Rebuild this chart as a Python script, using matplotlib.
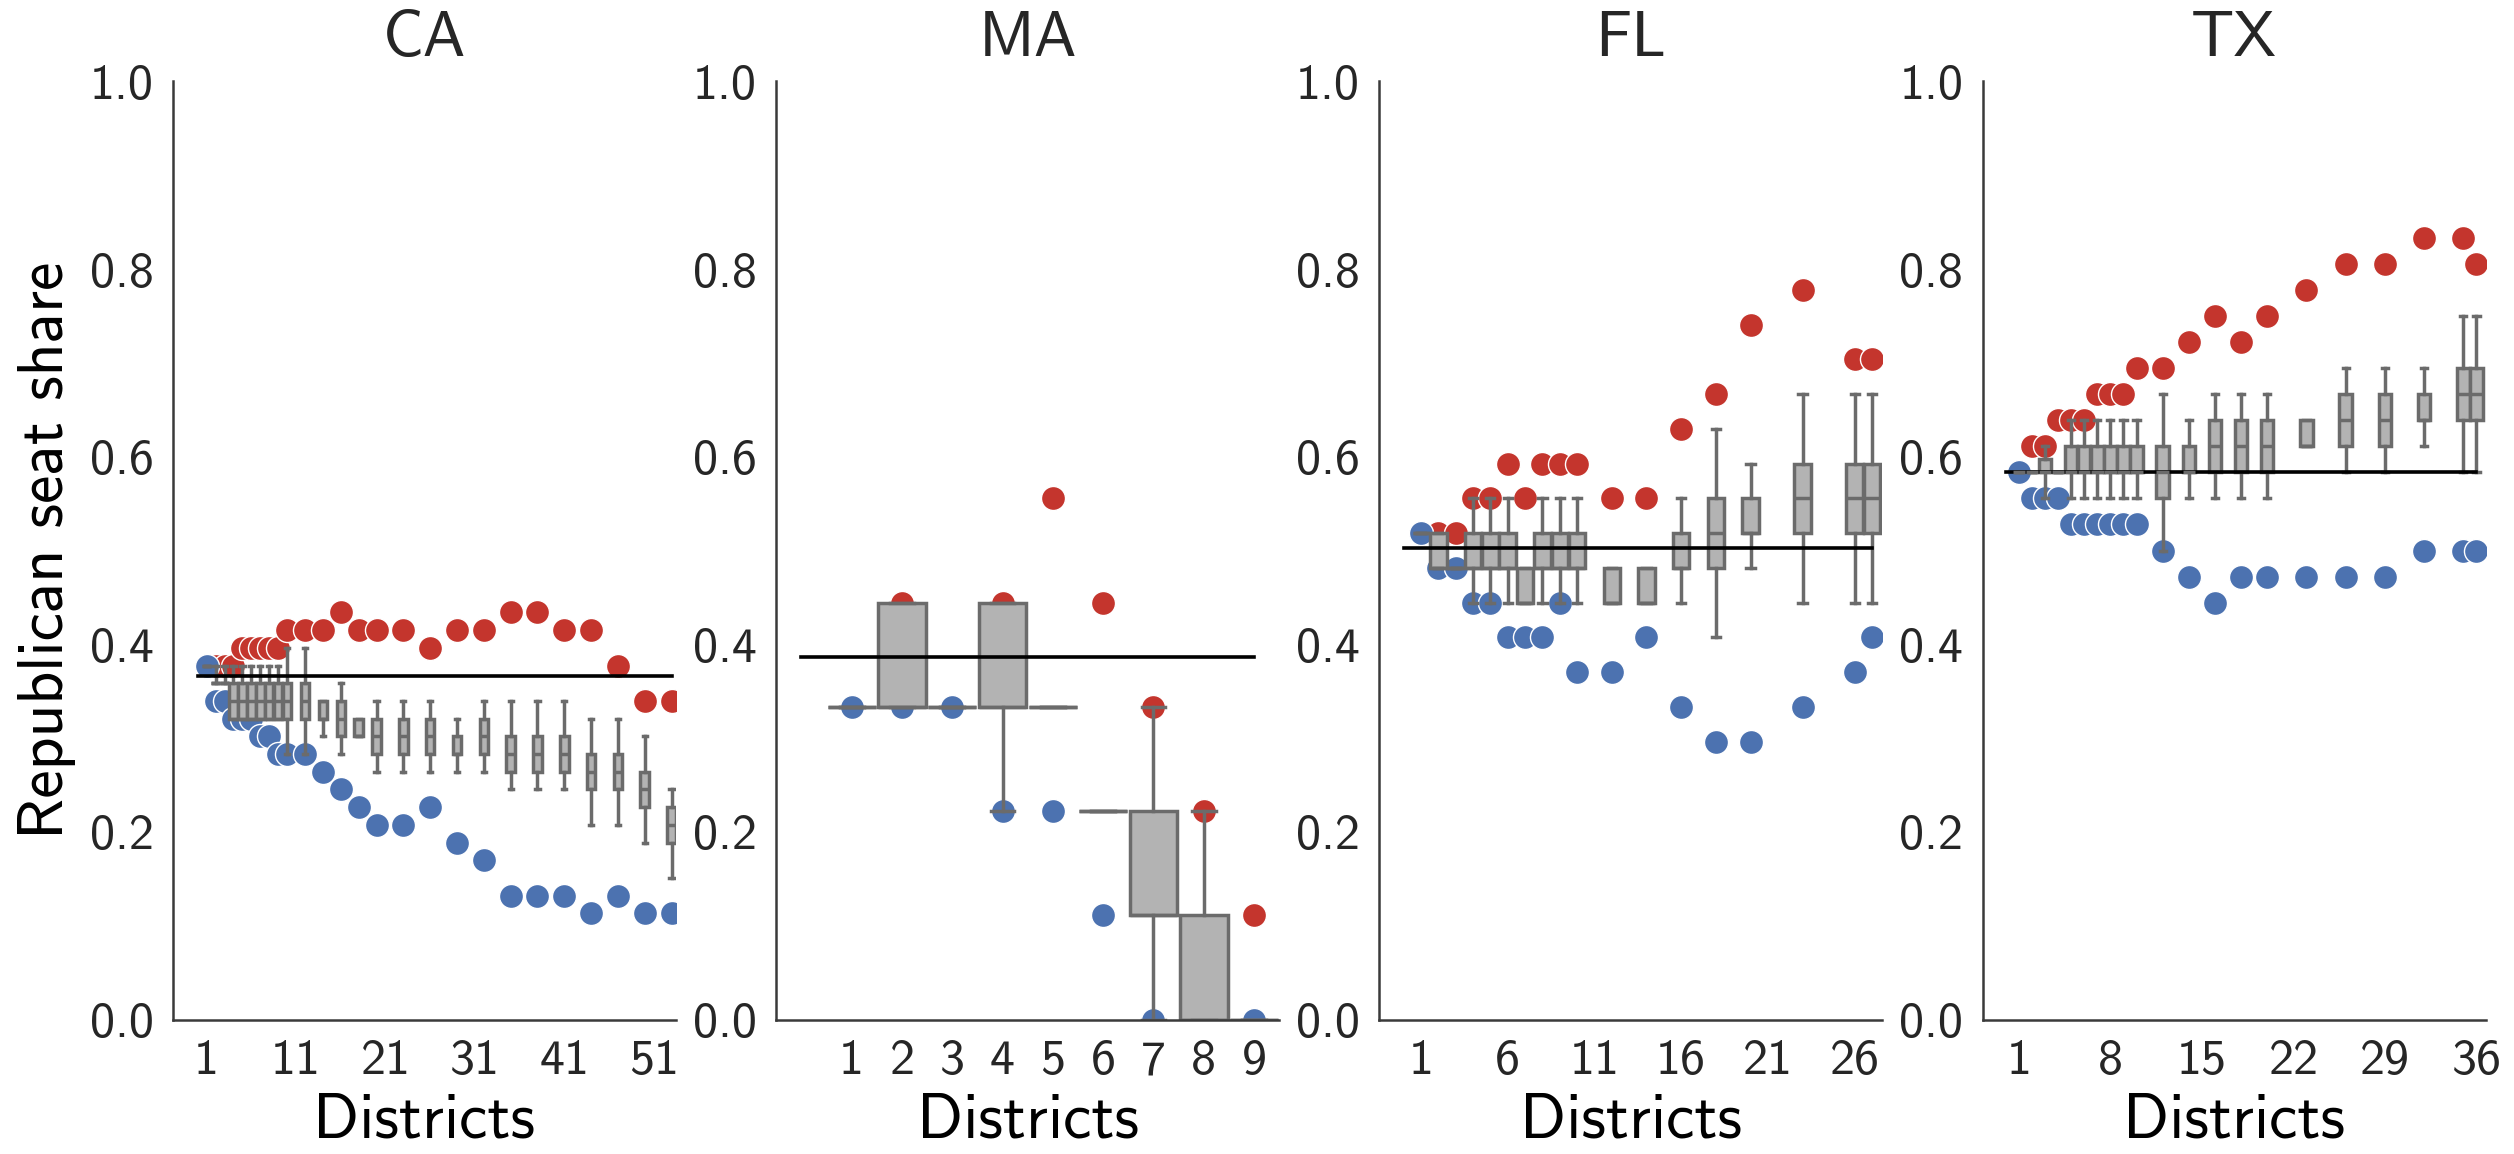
import matplotlib
matplotlib.use("Agg")
import matplotlib.pyplot as plt

plt.rcParams["font.family"] = ["cmss10", "DejaVu Sans"]
plt.rcParams["axes.unicode_minus"] = False
plt.rcParams["text.color"] = "#262626"
plt.rcParams["xtick.color"] = "#262626"
plt.rcParams["ytick.color"] = "#262626"

RED = "#c4352d"
BLUE = "#4c72b0"
BOX_FACE = "#b3b3b3"
BOX_EDGE = "#6b6b6b"

states = ["CA", "MA", "FL", "TX"]

# seats in each state's delegation
ca_seats = 53
ma_seats = 9
fl_seats = 27
tx_seats = 36

# statewide republican share (black line)
ca_line = 0.366
ma_line = 0.386
fl_line = 0.503
tx_line = 0.584

# ---- CA (values in seats out of 53)
ca_x = [1, 2, 3, 4, 5, 6, 7, 8, 9, 10, 12, 14, 16, 18, 20, 23, 26, 29, 32, 35, 38, 41, 44, 47, 50, 53]
ca_max = [20, 20, 20, 20, 21, 21, 21, 21, 21, 22, 22, 22, 23, 22, 22, 22, 21, 22, 22, 23, 23, 22, 22, 20, 18, 18]
ca_min = [20, 18, 18, 17, 17, 17, 16, 16, 15, 15, 15, 14, 13, 12, 11, 11, 12, 10, 9, 7, 7, 7, 6, 7, 6, 6]
ca_lo = [20, 19, 19, 17, 17, 17, 17, 17, 17, 15, 15, 16, 15, 16, 14, 14, 14, 14, 14, 13, 13, 13, 11, 11, 10, 8]
ca_q1 = [20, 19, 19, 17, 17, 17, 17, 17, 17, 17, 17, 17, 16, 16, 15, 15, 15, 15, 15, 14, 14, 14, 13, 13, 12, 10]
ca_med = [20, 19, 19, 18, 18, 18, 18, 18, 18, 18, 18, 17, 17, 16, 16, 16, 16, 15, 16, 15, 15, 15, 14, 14, 13, 11]
ca_q3 = [20, 19, 19, 19, 19, 19, 19, 19, 19, 19, 19, 18, 18, 17, 17, 17, 17, 16, 17, 16, 16, 16, 15, 15, 14, 12]
ca_hi = [20, 20, 20, 20, 20, 20, 20, 20, 20, 21, 21, 18, 19, 17, 18, 18, 18, 17, 18, 18, 18, 18, 17, 17, 16, 13]

# ---- MA (seats out of 9)
ma_x = [1, 2, 3, 4, 5, 6, 7, 8, 9]
ma_max = [3, 4, 3, 4, 5, 4, 3, 2, 1]
ma_min = [3, 3, 3, 2, 2, 1, 0, 0, 0]
ma_lo = [3, 3, 3, 2, 3, 2, 0, 0, 0]
ma_q1 = [3, 3, 3, 3, 3, 2, 1, 0, 0]
ma_med = [3, 3, 3, 3, 3, 2, 1, 0, 0]
ma_q3 = [3, 4, 3, 4, 3, 2, 2, 1, 0]
ma_hi = [3, 4, 3, 4, 3, 2, 3, 2, 0]

# ---- FL (seats out of 27)
fl_x = [1, 2, 3, 4, 5, 6, 7, 8, 9, 10, 12, 14, 16, 18, 20, 23, 26, 27]
fl_max = [14, 14, 14, 15, 15, 16, 15, 16, 16, 16, 15, 15, 17, 18, 20, 21, 19, 19]
fl_min = [14, 13, 13, 12, 12, 11, 11, 11, 12, 10, 10, 11, 9, 8, 8, 9, 10, 11]
fl_lo = [14, 13, 13, 12, 12, 12, 12, 12, 12, 12, 12, 12, 12, 11, 13, 12, 12, 12]
fl_q1 = [14, 13, 13, 13, 13, 13, 12, 13, 13, 13, 12, 12, 13, 13, 14, 14, 14, 14]
fl_med = [14, 13, 13, 13, 13, 13, 12, 13, 13, 13, 12, 12, 13, 14, 14, 15, 15, 15]
fl_q3 = [14, 14, 13, 14, 14, 14, 13, 14, 14, 14, 13, 13, 14, 15, 15, 16, 16, 16]
fl_hi = [14, 14, 13, 15, 15, 15, 13, 15, 15, 15, 13, 13, 15, 17, 16, 18, 18, 18]

# ---- TX (seats out of 36)
tx_x = [1, 2, 3, 4, 5, 6, 7, 8, 9, 10, 12, 14, 16, 18, 20, 23, 26, 29, 32, 35, 36]
tx_max = [21, 22, 22, 23, 23, 23, 24, 24, 24, 25, 25, 26, 27, 26, 27, 28, 29, 29, 30, 30, 29]
tx_min = [21, 20, 20, 20, 19, 19, 19, 19, 19, 19, 18, 17, 16, 17, 17, 17, 17, 17, 18, 18, 18]
tx_lo = [21, 21, 20, 21, 20, 20, 20, 20, 20, 20, 18, 20, 20, 20, 20, 22, 21, 21, 22, 21, 21]
tx_q1 = [21, 21, 21, 21, 21, 21, 21, 21, 21, 21, 20, 21, 21, 21, 21, 22, 22, 22, 23, 23, 23]
tx_med = [21, 21, 21, 21, 21, 21, 21, 21, 21, 21, 21, 21, 22, 22, 22, 22, 23, 23, 23, 24, 24]
tx_q3 = [21, 21, 21.5, 21, 22, 22, 22, 22, 22, 22, 22, 22, 23, 23, 23, 23, 24, 24, 24, 25, 25]
tx_hi = [21, 21, 22, 21, 23, 23, 23, 23, 23, 23, 24, 23, 24, 24, 24, 23, 25, 25, 25, 27, 27]

xticks = {
    "CA": [1, 11, 21, 31, 41, 51],
    "MA": [1, 2, 3, 4, 5, 6, 7, 8, 9],
    "FL": [1, 6, 11, 16, 21, 26],
    "TX": [1, 8, 15, 22, 29, 36],
}
xlims = {"CA": (-2.77, 53.5), "MA": (-0.5, 9.5), "FL": (-1.4, 27.6), "TX": (-1.78, 36.7)}

data = {
    "CA": (ca_seats, ca_line, ca_x, ca_max, ca_min, ca_lo, ca_q1, ca_med, ca_q3, ca_hi),
    "MA": (ma_seats, ma_line, ma_x, ma_max, ma_min, ma_lo, ma_q1, ma_med, ma_q3, ma_hi),
    "FL": (fl_seats, fl_line, fl_x, fl_max, fl_min, fl_lo, fl_q1, fl_med, fl_q3, fl_hi),
    "TX": (tx_seats, tx_line, tx_x, tx_max, tx_min, tx_lo, tx_q1, tx_med, tx_q3, tx_hi),
}

fig, axes = plt.subplots(1, 4, figsize=(25.14, 11.54), dpi=100)
fig.subplots_adjust(left=0.0688, right=0.9887, bottom=0.1165, top=0.9294, wspace=0.199)

for ax, st in zip(axes, states):
    n, share, x, vmax, vmin, lo, q1, med, q3, hi = data[st]

    stats = []
    for a, b, c, d, e in zip(lo, q1, med, q3, hi):
        stats.append(dict(whislo=a / n, q1=b / n, med=c / n, q3=d / n, whishi=e / n))

    lw = 2.5
    ax.bxp(stats, positions=x, widths=0.95, patch_artist=True, showfliers=False,
           manage_ticks=False,
           boxprops=dict(facecolor=BOX_FACE, edgecolor=BOX_EDGE, linewidth=lw),
           whiskerprops=dict(color=BOX_EDGE, linewidth=lw),
           capprops=dict(color=BOX_EDGE, linewidth=lw),
           medianprops=dict(color=BOX_EDGE, linewidth=lw))

    ax.scatter(x, [v / n for v in vmax], s=300, color=RED, edgecolor="white", linewidth=1)
    ax.scatter(x, [v / n for v in vmin], s=300, color=BLUE, edgecolor="white", linewidth=1)

    ax.plot([0, n], [share, share], color="black", linewidth=2.6)

    ax.set_xlim(*xlims[st])
    ax.set_ylim(0, 1)
    ax.set_xticks(xticks[st])
    ax.set_xticklabels([str(t) for t in xticks[st]])
    ax.set_yticks([0, 0.2, 0.4, 0.6, 0.8, 1.0])
    ax.set_yticklabels(["0.0", "0.2", "0.4", "0.6", "0.8", "1.0"])
    ax.tick_params(length=0, labelsize=36, pad=14)

    for side in ["top", "right"]:
        ax.spines[side].set_visible(False)
    for side in ["left", "bottom"]:
        ax.spines[side].set_color("#3a3a3a")
        ax.spines[side].set_linewidth(1.8)

    ax.set_title(st, fontsize=46, pad=18)
    ax.set_xlabel("Districts", fontsize=46, labelpad=6)

axes[0].set_ylabel("Republican seat share", fontsize=46, labelpad=10)

fig.savefig("out.png", dpi=100)
